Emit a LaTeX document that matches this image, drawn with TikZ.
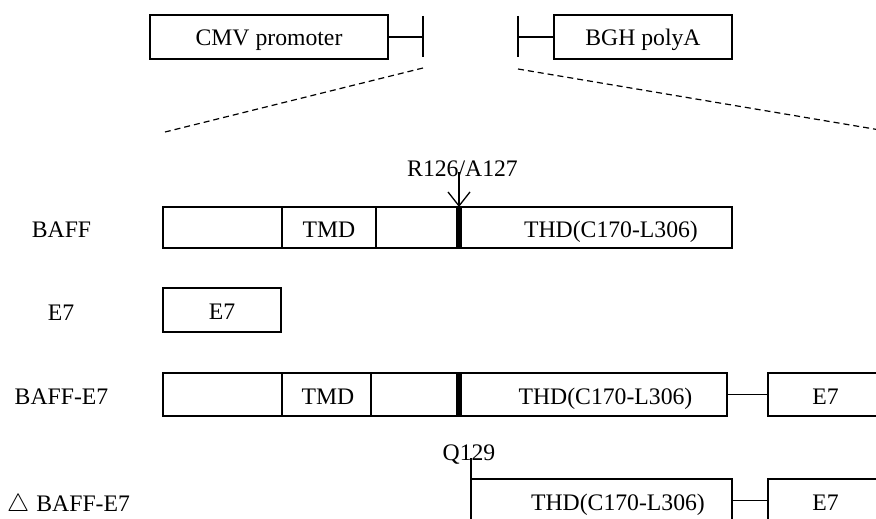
\documentclass[tikz,border=0pt]{standalone}
\usepackage{fontspec}
\setmainfont{Liberation Serif}
\usetikzlibrary{arrows.meta}
\begin{document}
\begin{tikzpicture}[x=1pt,y=-1pt,
  seg/.style={draw, line width=1.3pt, inner sep=0pt, outer sep=0pt, anchor=north west},
  bar/.style={fill=black, inner sep=0pt, outer sep=0pt, minimum width=6pt},
  txt/.style={inner sep=0pt, anchor=base, font=\fontsize{23.7}{28}\selectfont},
  lnk/.style={line width=1.3pt},
  dsh/.style={line width=1.2pt, dash pattern=on 6pt off 4pt}]
\useasboundingbox (0,0) rectangle (876,519);
\clip (0,0) rectangle (876,519);
% top: vector elements
\node[seg, minimum width=238pt, minimum height=44pt] (cmv) at (150,15) {};
\node[txt] (cmvt) at (269,46) {CMV promoter};
\coordinate (cmvk) at (423,37);
\coordinate (cmvkt) at (423,16);
\coordinate (cmvkb) at (423,57);
\draw[lnk] (cmv.east) -- (cmvk);
\draw[lnk] (cmvkt) -- (cmvkb);
\node[seg, minimum width=178pt, minimum height=44pt] (bgh) at (554,15) {};
\node[txt] (bght) at (643,46) {BGH polyA};
\coordinate (bghk) at (518,37);
\coordinate (bghkt) at (518,16);
\coordinate (bghkb) at (518,57);
\draw[lnk] (bghk) -- (bgh.west);
\draw[lnk] (bghkt) -- (bghkb);
\coordinate (dl1) at (423,68);
\coordinate (dl2) at (165,132);
\coordinate (dr1) at (518,69);
\coordinate (dr2) at (880,130);
\draw[dsh] (dl1) -- (dl2);
\draw[dsh] (dr1) -- (dr2);
% row 1: BAFF
\node[txt] (l1) at (61.5,237) {BAFF};
\node[seg, minimum width=119pt, minimum height=41pt] (b1a) at (163,207) {};
\node[seg, minimum width=94pt, minimum height=41pt] (b1b) at (282,207) {};
\node[seg, minimum width=83pt, minimum height=41pt] (b1c) at (376,207) {};
\node[seg, minimum width=273pt, minimum height=41pt] (b1d) at (459,207) {};
\node[bar, minimum height=41pt] (bar1) at (459,227.5) {};
\node[txt] (t1b) at (329,237) {TMD};
\node[txt] (t1d) at (611,237) {THD(C170-L306)};
\node[txt] (cut) at (462.5,176) {R126/A127};
\coordinate (cuts) at (459,172);
\draw[line width=1.3pt, -{Straight Barb[length=14pt,width=22pt,line width=1.3pt]}] (cuts) -- (bar1.north);
% row 2: E7
\node[txt] (l2) at (61,320) {E7};
\node[seg, minimum width=118pt, minimum height=44pt] (e72) at (163,288) {};
\node[txt] (t2) at (222,319) {E7};
% row 3: BAFF-E7
\node[txt] (l3) at (61.5,404) {BAFF-E7};
\node[seg, minimum width=119pt, minimum height=43pt] (b3a) at (163,373) {};
\node[seg, minimum width=89pt, minimum height=43pt] (b3b) at (282,373) {};
\node[seg, minimum width=88pt, minimum height=43pt] (b3c) at (371,373) {};
\node[seg, minimum width=268pt, minimum height=43pt] (b3d) at (459,373) {};
\node[bar, minimum height=43pt] (bar3) at (459,394.5) {};
\node[txt] (t3b) at (328,404) {TMD};
\node[txt] (t3d) at (605.5,404) {THD(C170-L306)};
\node[seg, minimum width=130pt, minimum height=43pt] (e73) at (768,373) {};
\node[txt] (t3e) at (825.5,404) {E7};
\draw[lnk] (b3d.east) -- (e73.west);
% row 4: delta BAFF-E7
\node[txt, anchor=base west] (l4) at (7,511) {$\triangle$\hspace{0.3em}BAFF-E7};
\node[seg, minimum width=261pt, minimum height=43pt] (b4) at (471,479) {};
\node[txt] (t4) at (618,510) {THD(C170-L306)};
\node[seg, minimum width=130pt, minimum height=43pt] (e74) at (768,479) {};
\node[txt] (t4e) at (825.5,510) {E7};
\draw[lnk] (b4.east) -- (e74.west);
\node[txt] (q) at (469,460) {Q129};
\coordinate (qk) at (471,458);
\draw[lnk] (qk) -- (b4.north west);
\end{tikzpicture}
\end{document}
